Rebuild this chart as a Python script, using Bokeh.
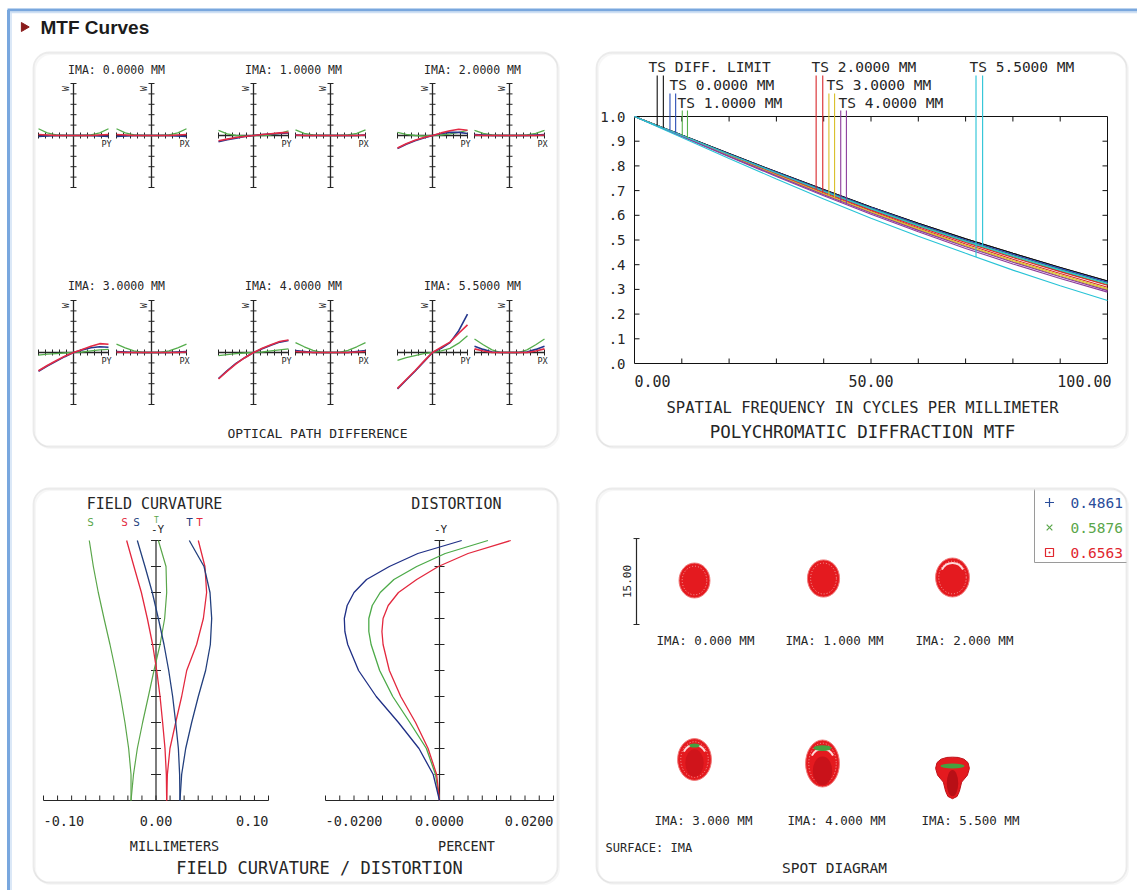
import numpy as np
from bokeh.plotting import figure
from bokeh.models import Range1d, BoxAnnotation
from bokeh.core.properties import value
from bokeh.embed import file_html
from bokeh.resources import INLINE

# ====================== DATA ======================
# ---- Optical path difference fans (waves), pupil coordinate -1..1 ----
OPD_TITLES = ["IMA: 0.0000 MM", "IMA: 1.0000 MM", "IMA: 2.0000 MM",
              "IMA: 3.0000 MM", "IMA: 4.0000 MM", "IMA: 5.5000 MM"]
PUPIL = [-1.0, -0.75, -0.5, -0.25, 0.0, 0.25, 0.5, 0.75, 1.0]
OPD_TICKS = [-1.0, -0.8, -0.6, -0.4, -0.2, 0.0, 0.2, 0.4, 0.6, 0.8, 1.0]

OPD_PY_BLUE = [
    [-0.02, -0.01, 0.00, 0.00, 0.0, 0.00, 0.00, -0.01, -0.02],
    [-0.12, -0.08, -0.05, -0.02, 0.0, 0.02, 0.03, 0.04, 0.05],
    [-0.25, -0.17, -0.10, -0.05, 0.0, 0.04, 0.06, 0.06, 0.04],
    [-0.36, -0.26, -0.17, -0.08, 0.0, 0.05, 0.09, 0.11, 0.10],
    [-0.50, -0.35, -0.21, -0.10, 0.0, 0.07, 0.14, 0.20, 0.23],
    [-0.70, -0.53, -0.36, -0.18, 0.0, 0.08, 0.19, 0.42, 0.74],
]
OPD_PY_GREEN = [
    [0.13, 0.05, 0.01, 0.00, 0.0, 0.00, 0.01, 0.05, 0.13],
    [0.10, 0.03, 0.00, -0.01, 0.0, 0.00, 0.01, 0.04, 0.09],
    [0.06, 0.02, 0.00, -0.01, 0.0, 0.01, 0.03, 0.06, 0.10],
    [-0.05, -0.03, -0.02, -0.01, 0.0, 0.01, 0.03, 0.05, 0.06],
    [-0.06, -0.04, -0.02, -0.01, 0.0, 0.01, 0.03, 0.05, 0.07],
    [-0.15, -0.10, -0.06, -0.02, 0.0, 0.03, 0.08, 0.18, 0.32],
]
OPD_PY_RED = [
    [0.02, 0.01, 0.00, 0.00, 0.0, 0.00, 0.00, 0.01, 0.02],
    [-0.10, -0.07, -0.04, -0.02, 0.0, 0.02, 0.035, 0.05, 0.06],
    [-0.24, -0.16, -0.09, -0.04, 0.0, 0.05, 0.09, 0.12, 0.10],
    [-0.35, -0.25, -0.16, -0.07, 0.0, 0.06, 0.12, 0.17, 0.16],
    [-0.51, -0.36, -0.22, -0.10, 0.0, 0.08, 0.15, 0.21, 0.24],
    [-0.69, -0.52, -0.35, -0.17, 0.0, 0.10, 0.20, 0.37, 0.53],
]
OPD_PX_BLUE = [
    [-0.02, -0.01, 0.00, 0.0, 0.0, 0.0, 0.00, -0.01, -0.02],
    [0.01, 0.00, 0.00, 0.0, 0.0, 0.0, 0.00, 0.00, 0.01],
    [0.02, 0.01, 0.00, 0.0, 0.0, 0.0, 0.00, 0.01, 0.02],
    [0.02, 0.01, 0.00, 0.0, 0.0, 0.0, 0.00, 0.01, 0.02],
    [0.04, 0.02, 0.00, 0.0, 0.0, 0.0, 0.00, 0.02, 0.04],
    [0.12, 0.06, 0.01, 0.0, 0.0, 0.0, 0.01, 0.06, 0.12],
]
OPD_PX_GREEN = [
    [0.13, 0.05, 0.01, 0.0, 0.0, 0.0, 0.01, 0.05, 0.13],
    [0.11, 0.04, 0.01, 0.0, 0.0, 0.0, 0.01, 0.04, 0.11],
    [0.10, 0.04, 0.01, 0.0, 0.0, 0.0, 0.01, 0.04, 0.10],
    [0.16, 0.09, 0.03, 0.0, 0.0, 0.0, 0.03, 0.09, 0.16],
    [0.19, 0.11, 0.04, 0.0, 0.0, 0.0, 0.04, 0.11, 0.19],
    [0.26, 0.15, 0.05, 0.0, 0.0, 0.0, 0.05, 0.15, 0.26],
]
OPD_PX_RED = [
    [0.02, 0.01, 0.00, 0.0, 0.0, 0.0, 0.00, 0.01, 0.02],
    [0.01, 0.00, 0.00, 0.0, 0.0, 0.0, 0.00, 0.00, 0.01],
    [0.01, 0.00, 0.00, 0.0, 0.0, 0.0, 0.00, 0.00, 0.01],
    [0.01, 0.00, 0.00, 0.0, 0.0, 0.0, 0.00, 0.00, 0.01],
    [0.02, 0.01, 0.00, 0.0, 0.0, 0.0, 0.00, 0.01, 0.02],
    [0.07, 0.03, 0.00, 0.0, 0.0, 0.0, 0.00, 0.03, 0.07],
]

# ---- Polychromatic diffraction MTF ----
MTF_FREQ = [0, 10, 20, 30, 40, 50, 60, 70, 80, 90, 100]
MTF_YTICKS = [0.0, 0.1, 0.2, 0.3, 0.4, 0.5, 0.6, 0.7, 0.8, 0.9, 1.0]
MTF_YLABELS = [".0", ".1", ".2", ".3", ".4", ".5", ".6", ".7", ".8", ".9", "1.0"]
MTF_XTICKS = [10, 20, 30, 40, 50, 60, 70, 80, 90]
MTF_DIFF = [1.0, 0.925, 0.850, 0.776, 0.704, 0.634, 0.568, 0.505, 0.446, 0.389, 0.334]
MTF_F0 = [1.0, 0.924, 0.848, 0.774, 0.701, 0.631, 0.564, 0.500, 0.441, 0.384, 0.329]
MTF_F1_T = [1.0, 0.923, 0.846, 0.771, 0.698, 0.627, 0.560, 0.496, 0.436, 0.379, 0.324]
MTF_F1_S = [1.0, 0.923, 0.845, 0.770, 0.696, 0.625, 0.557, 0.493, 0.432, 0.374, 0.319]
MTF_F2_T = [1.0, 0.922, 0.844, 0.768, 0.694, 0.622, 0.554, 0.490, 0.429, 0.372, 0.317]
MTF_F2_S = [1.0, 0.921, 0.842, 0.765, 0.690, 0.618, 0.549, 0.484, 0.422, 0.364, 0.309]
MTF_F3_T = [1.0, 0.921, 0.841, 0.763, 0.687, 0.614, 0.545, 0.479, 0.417, 0.359, 0.304]
MTF_F3_S = [1.0, 0.920, 0.840, 0.762, 0.686, 0.612, 0.542, 0.476, 0.413, 0.354, 0.299]
MTF_F4_T = [1.0, 0.919, 0.837, 0.757, 0.679, 0.604, 0.533, 0.466, 0.403, 0.344, 0.289]
MTF_F4_S = [1.0, 0.920, 0.839, 0.760, 0.683, 0.609, 0.539, 0.473, 0.410, 0.351, 0.295]
MTF_F5_T = [1.0, 0.915, 0.830, 0.747, 0.666, 0.588, 0.515, 0.446, 0.378, 0.315, 0.255]
MTF_F5_S = [1.0, 0.923, 0.846, 0.771, 0.697, 0.626, 0.558, 0.495, 0.435, 0.378, 0.324]
MTF_LABELS = ["TS DIFF. LIMIT", "TS 0.0000 MM", "TS 1.0000 MM", "TS 2.0000 MM",
              "TS 3.0000 MM", "TS 4.0000 MM", "TS 5.5000 MM"]
MTF_COLORS = ["#111111", "#2a4db5", "#58b04a", "#d8262a", "#d9c02a", "#8c3c9c", "#27c3d6"]
MTF_LEGEND_X = [(4.8, 6.1), (7.5, 8.7), (10.1, 11.2), (38.4, 39.8),
                (41.1, 42.3), (43.6, 44.8), (72.2, 73.6)]

# ---- Field curvature (mm) and distortion (percent) vs field (mm) ----
FC_FIELD = [0.0, 0.55, 1.1, 1.65, 2.2, 2.75, 3.3, 3.85, 4.4, 4.95, 5.5]
FC_YTICKS = [0.55, 1.1, 1.65, 2.2, 2.75, 3.3, 3.85, 4.4, 4.95, 5.5]
FC_XTICKS = [-0.1, -0.0875, -0.075, -0.0625, -0.05, -0.0375, -0.025, -0.0125, 0.0,
             0.0125, 0.025, 0.0375, 0.05, 0.0625, 0.075, 0.0875, 0.1]
FC_S_GREEN = [-0.0222, -0.0222, -0.0243, -0.0276, -0.0315, -0.0360, -0.0409, -0.0462, -0.0513, -0.0557, -0.0593]
FC_T_GREEN = [-0.0222, -0.0200, -0.0166, -0.0119, -0.0068, -0.0018, 0.0036, 0.0077, 0.0095, 0.0089, 0.0021]
FC_S_RED = [0.0095, 0.0092, 0.0080, 0.0059, 0.0036, 0.0006, -0.0030, -0.0077, -0.0130, -0.0196, -0.0261]
FC_T_RED = [0.0095, 0.0101, 0.0124, 0.0175, 0.0228, 0.0273, 0.0361, 0.0421, 0.0450, 0.0435, 0.0376]
FC_S_BLUE = [0.0213, 0.0210, 0.0199, 0.0175, 0.0148, 0.0113, 0.0071, 0.0021, -0.0033, -0.0098, -0.0166]
FC_T_BLUE = [0.0213, 0.0228, 0.0264, 0.0317, 0.0376, 0.0441, 0.0483, 0.0495, 0.0480, 0.0427, 0.0296]

DIST_FIELD = [0.0, 0.55, 1.1, 1.65, 2.2, 2.75, 3.3, 3.575, 3.85, 4.125, 4.4, 4.675, 4.95, 5.225, 5.5]
DIST_XTICKS = [-0.02, -0.0175, -0.015, -0.0125, -0.01, -0.0075, -0.005, -0.0025, 0.0,
               0.0025, 0.005, 0.0075, 0.01, 0.0125, 0.015, 0.0175, 0.02]
DIST_BLUE = [0.0, -0.0011, -0.0036, -0.0072, -0.0111, -0.0142, -0.0161, -0.0166, -0.0167,
             -0.0162, -0.0150, -0.0128, -0.0088, -0.0038, 0.0039]
DIST_GREEN = [0.0, -0.0007, -0.0023, -0.0052, -0.0082, -0.0105, -0.0120, -0.0124, -0.0124,
              -0.0118, -0.0104, -0.0080, -0.0040, 0.0010, 0.0085]
DIST_RED = [0.0, -0.0005, -0.0020, -0.0042, -0.0068, -0.0088, -0.0099, -0.0101, -0.0099,
            -0.0090, -0.0072, -0.0040, -0.0002, 0.0050, 0.0125]

# ---- Spot diagram (micrometres) ----
SPOT_LABELS = ["IMA: 0.000 MM", "IMA: 1.000 MM", "IMA: 2.000 MM",
               "IMA: 3.000 MM", "IMA: 4.000 MM", "IMA: 5.500 MM"]
SPOT_W = [5.4, 5.6, 5.9, 5.9, 5.9, 5.9]
SPOT_H = [6.1, 6.5, 6.8, 7.3, 8.2, 7.2]
SPOT5_X = [-2.95, -2.7, -2.0, -1.0, 0.0, 1.0, 2.0, 2.7, 2.95, 2.6, 1.6, 1.2, 0.8, 0.0, -0.8, -1.2, -1.6, -2.6]
SPOT5_Y = [1.6, 2.6, 3.2, 3.5, 3.55, 3.5, 3.2, 2.6, 1.6, 0.4, -0.8, -2.4, -3.3, -3.7, -3.3, -2.4, -0.8, 0.4]
SPOT_SCALE_UM = 15.00
WAVELENGTHS = ["0.4861", "0.5876", "0.6563"]
WAVE_COLORS = ["#2a4d9a", "#5aa64a", "#e0262e"]

# ====================== FIGURE ======================
X0, X1, Y0, Y1 = 0, 1137, 0, 890          # page area covered by the canvas
MONO = value("DejaVu Sans Mono")
INK = "#262626"
BLUE, GREEN, RED = "#23368c", "#55ad4c", "#e32a45"

p = figure(width=X1 - X0, height=Y1 - Y0, x_range=Range1d(X0, X1), y_range=Range1d(Y1, Y0),
           output_backend="svg", toolbar_location=None, x_axis_type=None, y_axis_type=None,
           min_border=0, outline_line_color=None, background_fill_color="white",
           border_fill_color="white")


class Map:
    """Extra linear scales that place a data box onto a pixel box of the canvas."""
    def __init__(self, name, px0, px1, dx0, dx1, py0, py1, dy0, dy1):
        self.name = name
        sx = (px1 - px0) / (dx1 - dx0)
        sy = (py0 - py1) / (dy1 - dy0)
        p.extra_x_ranges[name] = Range1d(start=dx0 - (px0 - X0) / sx, end=dx0 + (X1 - px0) / sx)
        p.extra_y_ranges[name] = Range1d(start=dy0 - (Y1 - py0) / sy, end=dy0 + (py0 - Y0) / sy)
        self.py0, self.dy0, self.sy = py0, dy0, sy

    def y(self, page_y):
        return self.dy0 + (self.py0 - page_y) / self.sy

    def kw(self):
        return dict(x_range_name=self.name, y_range_name=self.name)


def txt(x, y, t, size, align="center", color=INK, angle=0.0, font=MONO, style="normal",
        m=None, xoff=0):
    xs = x if isinstance(x, list) else [x]
    ys = y if isinstance(y, list) else [y] * len(xs)
    ts = t if isinstance(t, list) else [t] * len(xs)
    kw = m.kw() if m is not None else {}
    p.text(x=xs, y=ys, text=ts, text_font=font, text_font_size=f"{size}px",
           text_align=align, text_baseline="middle", text_color=color, angle=angle,
           text_font_style=style, x_offset=xoff, **kw)


# ---- page decoration ----
p.multi_line(xs=[[8, 8], [7, 1137]], ys=[[890, 9.5], [9.5, 9.5]],
             line_color="#79a7de", line_width=3)
p.multi_line(xs=[[10.5, 10.5], [9.5, 1137]], ys=[[890, 12], [12, 12]],
             line_color="#cfe0f4", line_width=1.5)
p.scatter(x=[23.5], y=[26.5], marker="triangle", angle=-np.pi / 2, size=9,
          fill_color="#8a1c1c", line_color="#8a1c1c")
txt(40, 27, "MTF Curves", 19, align="left", color="#1b1b1b",
    font=value("Liberation Sans"), style="bold")

for (l, r, t, b) in [(33, 557, 52, 446), (596, 1126, 52, 446),
                     (33, 557, 488, 882), (596, 1126, 488, 882)]:
    p.add_layout(BoxAnnotation(left=l + 1.5, right=r + 1.5, top=t + 1.5, bottom=b + 1.5,
                               border_radius=16, fill_alpha=0, line_color="#e4e4e4",
                               line_width=2))
    p.add_layout(BoxAnnotation(left=l, right=r, top=t, bottom=b, border_radius=16,
                               fill_alpha=0, line_color="#bdbdbd", line_width=1.8))

# ====================== PANEL 1: OPD ======================
OPD_AXIS_X = [73, 151, 253, 330, 432, 509]
OPD_ROW_Y = [135, 352]
OPD_HALF_W, OPD_HALF_H = 35, 52
OPD_TITLE_X = [116, 293, 472]
OPD_TITLE_Y = [69, 285]

for f in range(6):
    r, c = divmod(f, 3)
    txt(OPD_TITLE_X[c], OPD_TITLE_Y[r], OPD_TITLES[f], 11.5)
    for k, (lab, blue, green, red) in enumerate([
            ("PY", OPD_PY_BLUE, OPD_PY_GREEN, OPD_PY_RED),
            ("PX", OPD_PX_BLUE, OPD_PX_GREEN, OPD_PX_RED)]):
        ax = OPD_AXIS_X[2 * c + k]
        cy = OPD_ROW_Y[r]
        m = Map(f"opd{f}{k}", ax, ax + OPD_HALF_W, 0, 1, cy, cy - OPD_HALF_H, 0, 1)
        # axes
        p.line(x=[-1, 1], y=[0, 0], line_color=INK, line_width=1.3, **m.kw())
        p.line(x=[0, 0], y=[-1, 1], line_color=INK, line_width=1.3, **m.kw())
        p.scatter(x=OPD_TICKS, y=[0] * len(OPD_TICKS), marker="dash", angle=np.pi / 2,
                  size=6, line_color=INK, line_width=1, **m.kw())
        p.scatter(x=[0] * len(OPD_TICKS), y=OPD_TICKS, marker="dash", size=6,
                  line_color=INK, line_width=1, **m.kw())
        # curves
        p.line(x=PUPIL, y=green[f], line_color=GREEN, line_width=1.3, **m.kw())
        p.line(x=PUPIL, y=blue[f], line_color=BLUE, line_width=1.6, **m.kw())
        p.line(x=PUPIL, y=red[f], line_color=RED, line_width=1.6, **m.kw())
        txt(ax - 7, cy - OPD_HALF_H + 5, "W", 8, angle=np.pi / 2)
        txt(ax + 33, cy + 8, lab, 8.5)

txt(317, 433, "OPTICAL PATH DIFFERENCE", 13)

# ====================== PANEL 2: MTF ======================
mtf = Map("mtf", 634, 1107, 0, 100, 363, 116, 0, 1)
p.line(x=[0, 100, 100, 0, 0], y=[0, 0, 1, 1, 0], line_color="#111111", line_width=1, **mtf.kw())
p.ray(x=MTF_XTICKS, y=[0] * 9, length=5, length_units="screen", angle=np.pi / 2,
      line_color="#111111", **mtf.kw())
p.ray(x=MTF_XTICKS, y=[1] * 9, length=5, length_units="screen", angle=-np.pi / 2,
      line_color="#111111", **mtf.kw())
p.ray(x=[0] * 9, y=MTF_YTICKS[1:-1], length=5, length_units="screen", angle=0,
      line_color="#111111", **mtf.kw())
p.ray(x=[100] * 9, y=MTF_YTICKS[1:-1], length=5, length_units="screen", angle=np.pi,
      line_color="#111111", **mtf.kw())

mtf_series = [(MTF_DIFF, MTF_DIFF), (MTF_F0, MTF_F0), (MTF_F1_T, MTF_F1_S),
              (MTF_F2_T, MTF_F2_S), (MTF_F3_T, MTF_F3_S), (MTF_F4_T, MTF_F4_S),
              (MTF_F5_T, MTF_F5_S)]
for (tcurve, scurve), col in zip(mtf_series, MTF_COLORS):
    p.line(x=MTF_FREQ, y=scurve, line_color=col, line_width=1.1, **mtf.kw())
    p.line(x=MTF_FREQ, y=tcurve, line_color=col, line_width=1.1, **mtf.kw())

MTF_LABEL_POS = [(648, 66), (669, 84), (677, 102), (811, 66), (826, 84), (838, 102), (969, 66)]
LINE_TOP = {66: 75, 84: 93, 102: 110}
for (tcurve, scurve), col, lab, (lx, ly), xs in zip(mtf_series, MTF_COLORS, MTF_LABELS,
                                                     MTF_LABEL_POS, MTF_LEGEND_X):
    top = mtf.y(LINE_TOP[ly])
    ends = [float(np.interp(xs[0], MTF_FREQ, tcurve)), float(np.interp(xs[1], MTF_FREQ, scurve))]
    p.segment(x0=list(xs), y0=[top, top], x1=list(xs), y1=ends, line_color=col,
              line_width=1.1, **mtf.kw())
    txt(lx, ly, lab, 14.5, align="left")

txt([0] * 11, MTF_YTICKS, MTF_YLABELS, 14, align="right", m=mtf, xoff=-9)
ylab = mtf.y(380)
txt(0, ylab, "0.00", 15, align="left", m=mtf)
txt(50, ylab, "50.00", 15, align="center", m=mtf)
txt(100, ylab, "100.00", 15, align="right", m=mtf, xoff=4)
txt(862, 407, "SPATIAL FREQUENCY IN CYCLES PER MILLIMETER", 15.5)
txt(862, 431, "POLYCHROMATIC DIFFRACTION MTF", 17.5)

# ====================== PANEL 3: FIELD CURVATURE / DISTORTION ======================
fc = Map("fc", 43, 268, -0.1, 0.1, 800, 540, 0.0, 5.5)
ds = Map("ds", 325, 553, -0.02, 0.02, 800, 540, 0.0, 5.5)
for m, ticks in [(fc, FC_XTICKS), (ds, DIST_XTICKS)]:
    p.line(x=[ticks[0], ticks[-1]], y=[0, 0], line_color=INK, line_width=1.2, **m.kw())
    p.ray(x=ticks, y=[0] * len(ticks), length=5, length_units="screen", angle=np.pi / 2,
          line_color=INK, **m.kw())
    p.line(x=[0, 0], y=[0, 5.5], line_color=INK, line_width=1.2, **m.kw())
    p.scatter(x=[0] * len(FC_YTICKS), y=FC_YTICKS, marker="dash", size=10,
              line_color=INK, line_width=1, **m.kw())

p.line(x=FC_S_GREEN, y=FC_FIELD, line_color="#5aa64a", line_width=1.2, **fc.kw())
p.line(x=FC_T_GREEN, y=FC_FIELD, line_color="#5aa64a", line_width=1.2, **fc.kw())
p.line(x=FC_S_RED, y=FC_FIELD, line_color="#e3283e", line_width=1.3, **fc.kw())
p.line(x=FC_T_RED, y=FC_FIELD, line_color="#e3283e", line_width=1.3, **fc.kw())
p.line(x=FC_S_BLUE, y=FC_FIELD, line_color="#23407e", line_width=1.3, **fc.kw())
p.line(x=FC_T_BLUE, y=FC_FIELD, line_color="#23407e", line_width=1.3, **fc.kw())

p.line(x=DIST_GREEN, y=DIST_FIELD, line_color="#4caa48", line_width=1.3, **ds.kw())
p.line(x=DIST_RED, y=DIST_FIELD, line_color="#e3283e", line_width=1.3, **ds.kw())
p.line(x=DIST_BLUE, y=DIST_FIELD, line_color="#1f2f86", line_width=1.3, **ds.kw())

txt(154, 503, "FIELD CURVATURE", 15)
txt(456, 503, "DISTORTION", 15)
txt(90, 522, "S", 11, color="#5aa64a")
txt(124, 522, "S", 11, color="#e3283e")
txt(136, 522, "S", 11, color="#23407e")
txt(156, 520, "T", 8, color="#5aa64a")
txt(189, 522, "T", 11, color="#23407e")
txt(199, 522, "T", 11, color="#e3283e")
txt(157, 529, "-Y", 11)
txt(440, 529, "-Y", 11)
tl = fc.y(820)
txt(-0.1, tl, "-0.10", 13.5, align="left", m=fc)
txt(0.0, tl, "0.00", 13.5, align="center", m=fc)
txt(0.1, tl, "0.10", 13.5, align="right", m=fc)
txt(-0.02, tl, "-0.0200", 13.5, align="left", m=ds)
txt(0.0, tl, "0.0000", 13.5, align="center", m=ds)
txt(0.02, tl, "0.0200", 13.5, align="right", m=ds)
txt(174, 845, "MILLIMETERS", 13.5)
txt(466, 845, "PERCENT", 13.5)
txt(319, 867, "FIELD CURVATURE / DISTORTION", 17)

# ====================== PANEL 4: SPOT DIAGRAM ======================
PX_PER_UM = 5.73
SPOT_CX = [694, 823, 952, 694, 822, 952]
SPOT_CY = [580, 578, 577, 759, 763, 777]
SPOT_LABEL_X = [705, 834, 964, 703, 836, 970]
SPOT_LABEL_Y = [640, 640, 640, 820, 820, 820]
SPOT_RED = "#e41a1f"
for i in range(6):
    m = Map(f"spot{i}", SPOT_CX[i], SPOT_CX[i] + PX_PER_UM, 0, 1,
            SPOT_CY[i], SPOT_CY[i] - PX_PER_UM, 0, 1)
    w, h = SPOT_W[i], SPOT_H[i]
    if i < 5:
        p.ellipse(x=[0], y=[0], width=[w], height=[h], fill_color=SPOT_RED,
                  line_color="#f07a7a", line_width=1, **m.kw())
        p.ellipse(x=[0], y=[0], width=[w - 1.1], height=[h - 1.1], fill_alpha=0,
                  line_color="#f6a4a4", line_width=1, line_dash="1 2", **m.kw())
        if i >= 2:
            p.arc(x=[0], y=[0.5], radius=w / 2 - 0.9, start_angle=0.45, end_angle=2.7,
                  line_color="#ffd9d9", line_width=2, **m.kw())
        if i == 4:
            p.ellipse(x=[0], y=[-1.3], width=[3.4], height=[5.0], fill_color="#c9121a",
                      line_alpha=0, **m.kw())
            p.ellipse(x=[0], y=[h / 2 - 1.4], width=[3.2], height=[1.0],
                      fill_color="#45a040", line_alpha=0, **m.kw())
        if i == 3:
            p.ellipse(x=[0], y=[-0.6], width=[3.2], height=[4.8], fill_color="#d0141b",
                      line_alpha=0, **m.kw())
            p.ellipse(x=[0], y=[h / 2 - 1.2], width=[1.8], height=[0.7],
                      fill_color="#45a040", line_alpha=0, **m.kw())
    else:
        p.patch(x=SPOT5_X, y=SPOT5_Y, fill_color=SPOT_RED, line_color="#c01018",
                line_width=1, **m.kw())
        p.ellipse(x=[0], y=[-1.0], width=[2.0], height=[4.6], fill_color="#b80f16",
                  line_alpha=0, **m.kw())
        p.ellipse(x=[0], y=[2.0], width=[4.2], height=[0.9], fill_color="#45a040",
                  line_alpha=0, **m.kw())
    txt(SPOT_LABEL_X[i], SPOT_LABEL_Y[i], SPOT_LABELS[i], 12.5)

bar = Map("bar", 636, 636 + PX_PER_UM, 0, 1, 624, 624 - PX_PER_UM, 0, 1)
p.line(x=[0, 0], y=[0, SPOT_SCALE_UM], line_color=INK, line_width=1.2, **bar.kw())
p.scatter(x=[0, 0], y=[0, SPOT_SCALE_UM], marker="dash", size=6, line_color=INK, **bar.kw())
txt(626, 581, f"{SPOT_SCALE_UM:.2f}", 11, angle=np.pi / 2)

# wavelength legend
p.multi_line(xs=[[1034, 1034], [1034, 1126]], ys=[[489, 562], [562, 562]],
             line_color="#9a9a9a", line_width=1)
LEG_Y = [502, 527, 552]
p.scatter(x=[1049], y=[LEG_Y[0]], marker="cross", size=9, line_color=WAVE_COLORS[0], line_width=1.2)
p.scatter(x=[1049], y=[LEG_Y[1]], marker="x", size=8, line_color=WAVE_COLORS[1], line_width=1.2)
p.scatter(x=[1049], y=[LEG_Y[2]], marker="square_dot", size=8, line_color=WAVE_COLORS[2],
          fill_alpha=0, line_width=1.2)
for wl, col, ly in zip(WAVELENGTHS, WAVE_COLORS, LEG_Y):
    txt(1070, ly, wl, 14.5, align="left", color=col)

txt(605, 847, "SURFACE: IMA", 12, align="left")
txt(834, 867, "SPOT DIAGRAM", 14.5)

open("out.html", "w").write(file_html(p, INLINE))
